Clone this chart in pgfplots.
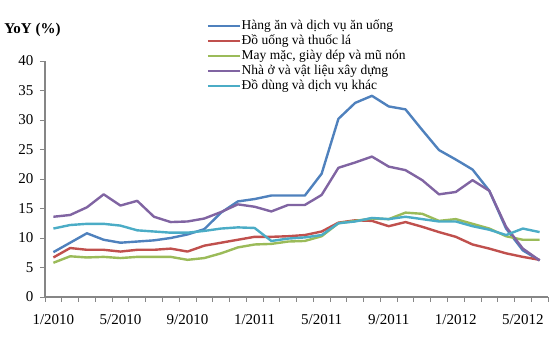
\documentclass[border=0pt]{standalone}
\usepackage{fontspec}
\setmainfont{Liberation Serif}
\usepackage{pgfplots}
\pgfplotsset{compat=1.18}
\definecolor{cblue}{HTML}{4F81BD}
\definecolor{cred}{HTML}{C0504D}
\definecolor{cgreen}{HTML}{9BBB59}
\definecolor{cpurple}{HTML}{8064A2}
\definecolor{ccyan}{HTML}{4BACC6}
\definecolor{axgray}{HTML}{868686}
\begin{document}
\begin{tikzpicture}
\begin{axis}[
  scale only axis, width=503pt, height=236pt,
  xmin=-0.5, xmax=29.5, ymin=0, ymax=40,
  axis x line*=bottom, axis y line*=left,
  axis line style={draw=axgray, line width=1.2pt},
  xtick={0,4,...,28},
  xticklabels={1/2010,5/2010,9/2010,1/2011,5/2011,9/2011,1/2012,5/2012},
  major x tick style={draw=none},
  minor xtick={-0.5,0.5,...,29.5},
  ytick={0,5,...,40},
  tick align=outside, major tick length=5pt, minor tick length=5pt,
  tick style={draw=axgray, line width=0.8pt},
  ticklabel style={font=\fontsize{15}{15}\selectfont},
  xticklabel style={yshift=-9pt},
  yticklabel style={xshift=-3pt},
  /pgf/number format/assume math mode=true,
  legend style={at={(0.322,1.18)}, anchor=north west, draw=none, fill=none,
    font=\fontsize{13.5}{15}\selectfont, inner sep=0pt,
    nodes={inner sep=1pt, text height=9.5pt, text depth=3.5pt}},
  legend cell align=left,
  legend image code/.code={\draw[#1, line width=1.5pt] (0pt,0pt) -- (32pt,0pt);},
  every axis plot/.append style={line width=2.4pt, line join=round},
  clip=false,
]
\addplot[cblue] coordinates {(0,7.6)(1,9.2)(2,10.8)(3,9.7)(4,9.2)(5,9.4)(6,9.6)(7,10.0)(8,10.6)(9,11.5)(10,14.3)(11,16.2)(12,16.6)(13,17.2)(14,17.2)(15,17.2)(16,20.9)(17,30.2)(18,32.9)(19,34.1)(20,32.3)(21,31.8)(22,28.3)(23,24.9)(24,23.3)(25,21.6)(26,18.0)(27,11.6)(28,7.9)(29,6.2)};
\addlegendentry{Hàng ăn và dịch vụ ăn uống}
\addplot[cred] coordinates {(0,6.7)(1,8.3)(2,8.0)(3,8.0)(4,7.7)(5,8.0)(6,8.0)(7,8.2)(8,7.7)(9,8.7)(10,9.2)(11,9.7)(12,10.2)(13,10.2)(14,10.3)(15,10.5)(16,11.1)(17,12.6)(18,13.0)(19,12.9)(20,12.0)(21,12.7)(22,11.9)(23,11.0)(24,10.2)(25,8.9)(26,8.2)(27,7.4)(28,6.8)(29,6.3)};
\addlegendentry{Đồ uống và thuốc lá}
\addplot[cgreen] coordinates {(0,5.8)(1,6.9)(2,6.7)(3,6.8)(4,6.6)(5,6.8)(6,6.8)(7,6.8)(8,6.3)(9,6.6)(10,7.4)(11,8.4)(12,8.9)(13,9.0)(14,9.4)(15,9.5)(16,10.3)(17,12.5)(18,12.9)(19,13.3)(20,13.2)(21,14.3)(22,14.1)(23,12.9)(24,13.2)(25,12.4)(26,11.6)(27,10.3)(28,9.7)(29,9.7)};
\addlegendentry{May mặc, giày dép và mũ nón}
\addplot[cpurple] coordinates {(0,13.6)(1,13.9)(2,15.2)(3,17.4)(4,15.5)(5,16.3)(6,13.6)(7,12.7)(8,12.8)(9,13.3)(10,14.4)(11,15.7)(12,15.3)(13,14.5)(14,15.6)(15,15.6)(16,17.3)(17,21.9)(18,22.8)(19,23.8)(20,22.1)(21,21.5)(22,19.8)(23,17.4)(24,17.8)(25,19.8)(26,18.0)(27,11.9)(28,8.2)(29,6.2)};
\addlegendentry{Nhà ở và vật liệu xây dựng}
\addplot[ccyan] coordinates {(0,11.6)(1,12.2)(2,12.4)(3,12.4)(4,12.1)(5,11.3)(6,11.1)(7,10.9)(8,10.9)(9,11.2)(10,11.6)(11,11.8)(12,11.7)(13,9.5)(14,9.9)(15,10.1)(16,10.5)(17,12.5)(18,12.8)(19,13.4)(20,13.2)(21,13.6)(22,13.2)(23,12.8)(24,12.8)(25,12.0)(26,11.4)(27,10.5)(28,11.6)(29,11.0)};
\addlegendentry{Đồ dùng và dịch vụ khác}
\node[font=\bfseries\fontsize{15}{15}\selectfont] at (rel axis cs:-0.025,1.13) {YoY (\%)};
\end{axis}
\pgfresetboundingbox
\path[use as bounding box] (-45pt,-67pt) rectangle (505pt,297pt);
\end{tikzpicture}
\end{document}
